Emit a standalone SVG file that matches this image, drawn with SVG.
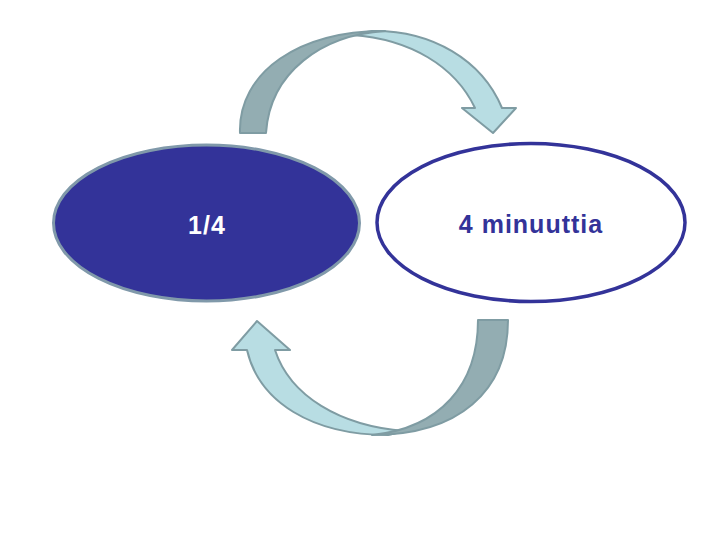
<svg xmlns="http://www.w3.org/2000/svg" width="720" height="540" viewBox="0 0 720 540">
<style>
.dark{fill:#93adb2;stroke:#7f9ca3;stroke-width:2;stroke-linejoin:round}
.light{fill:#b8dde3;stroke:#7f9ca3;stroke-width:2;stroke-linejoin:round}
.lbl{font-family:"Liberation Sans",Arial,sans-serif;font-weight:bold;font-size:25px;text-anchor:middle;letter-spacing:1px}
</style>
<rect width="720" height="540" fill="#ffffff"/>
<g id="connectors">
  <g id="arrow-top">
    <path class="light" d="M 372,31 C 432,30 482,60 502,108 L 516,108 L 493,133 L 462,108 L 475,108 C 455,66 410,39 352,35 Z"/>
    <path class="dark" d="M 240,133 C 238,72 300,30 385,31 C 322,35 270,72 266,133 Z"/>
  </g>
  <g id="arrow-bottom">
    <path class="light" d="M 388,435 C 312,435 259,402 247,350 L 232,350 L 257,321 L 290,350 L 275,350 C 290,396 340,426 405,431 Z"/>
    <path class="dark" d="M 508,320 C 508,392 458,435 372,435 C 440,428 478,385 478,320 Z"/>
  </g>
</g>
<g id="node-left">
  <ellipse cx="206.5" cy="223" rx="153" ry="78" fill="#333399" stroke="#8099aa" stroke-width="3"/>
  <text class="lbl" x="207" y="234" fill="#ffffff">1/4</text>
</g>
<g id="node-right">
  <ellipse cx="531" cy="222.5" rx="154" ry="79" fill="#ffffff" stroke="#333399" stroke-width="3.5"/>
  <text class="lbl" x="531" y="233" fill="#333399">4 minuuttia</text>
</g>
</svg>
